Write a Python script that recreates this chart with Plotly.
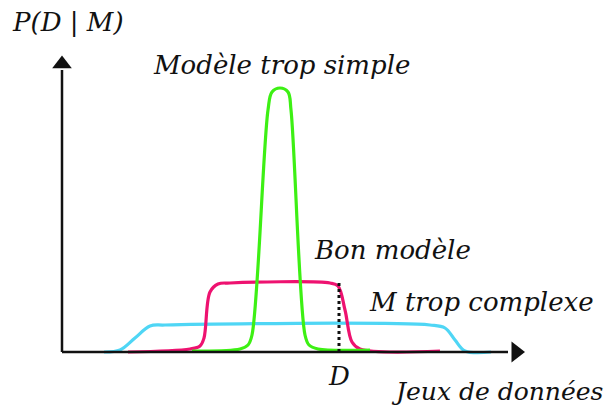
import plotly.graph_objects as go

# curves: x = data sets (position along axis), y = P(D|M)
simple_x = [130, 178, 186, 190, 206, 210, 218, 226, 229, 243, 247, 256, 308]
simple_y = [1, 3, 7, 17, 242, 260, 264, 260, 242, 17, 7, 3, 2]

good_x = [66, 128, 138, 142, 148, 156, 168, 268, 276, 283, 290, 298, 378]
good_y = [0, 3, 6, 14, 60, 68, 69, 69, 66, 42, 10, 3, 1]

complex_x = [42, 58, 73, 88, 103, 368, 383, 393, 403, 429]
complex_y = [0, 2, 14, 26, 27, 27, 24, 12, 1, 0]

D = 277
D_height = 69

font_family = 'DejaVu Serif'
ink = '#111111'

fig = go.Figure()

fig.add_trace(go.Scatter(x=complex_x, y=complex_y, mode='lines', line_shape='spline',
                         line=dict(color='#4fd6f5', width=3.2), showlegend=False))
fig.add_trace(go.Scatter(x=good_x, y=good_y, mode='lines', line_shape='spline',
                         line=dict(color='#ee1270', width=3.2), showlegend=False))
fig.add_trace(go.Scatter(x=simple_x, y=simple_y, mode='lines', line_shape='spline',
                         line=dict(color='#3df014', width=3.2), showlegend=False))

# dotted line at D
fig.add_trace(go.Scatter(x=[D, D], y=[0, D_height], mode='lines',
                         line=dict(color=ink, width=3, dash='dot'), showlegend=False))

# axes with arrow heads
fig.add_trace(go.Scatter(x=[0, 0], y=[0, 282], mode='lines',
                         line=dict(color=ink, width=2.5), showlegend=False))
fig.add_trace(go.Scatter(x=[0, 446], y=[0, 0], mode='lines',
                         line=dict(color=ink, width=2.5), showlegend=False))
fig.add_trace(go.Scatter(x=[0], y=[288], mode='markers',
                         marker=dict(symbol='triangle-up', size=17, color=ink), showlegend=False))
fig.add_trace(go.Scatter(x=[454], y=[0], mode='markers',
                         marker=dict(symbol='triangle-right', size=18, color=ink), showlegend=False))

labels = [
    ('P(D | M)', 6, 330, 26),
    ('Modèle trop simple', 219, 287, 26),
    ('Bon modèle', 330, 102, 26),
    ('M trop complexe', 419, 50, 26),
    ('D', 277, -24, 26),
    ('Jeux de données', 435, -39, 25),
]
for txt, x, y, sz in labels:
    fig.add_annotation(x=x, y=y, text='<i>' + txt + '</i>', showarrow=False,
                       font=dict(family=font_family, size=sz, color=ink))

fig.update_xaxes(range=[-54, 551], visible=False)
fig.update_yaxes(range=[-56, 344], visible=False)
fig.update_layout(width=605, height=400, margin=dict(l=0, r=0, t=0, b=0),
                  plot_bgcolor='white', paper_bgcolor='white')

fig.write_html('out.html')
